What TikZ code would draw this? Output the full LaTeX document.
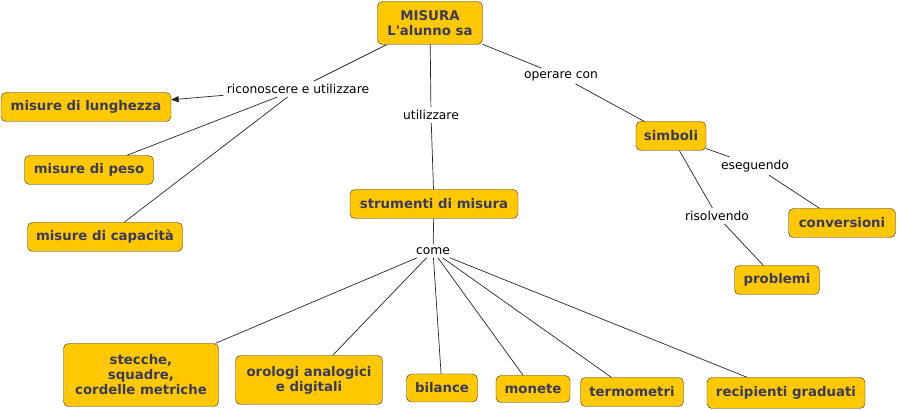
\documentclass[tikz,border=0pt]{standalone}
\usepackage{fontspec}
\setmainfont{DejaVu Sans}
\usetikzlibrary{arrows}
\definecolor{giallo}{HTML}{FFC800}
\definecolor{testo}{HTML}{3A3A5C}
\begin{document}
\begin{tikzpicture}[x=1pt,y=-1pt]
\tikzstyle{nodo concetto}=[draw=black!80,fill=giallo,rounded corners=5pt,text=testo,font=\bfseries\fontsize{13.3}{15}\selectfont,align=center,inner xsep=5pt,minimum height=29pt]
\tikzstyle{nodo frase}=[fill=white,inner sep=3pt,font=\fontsize{12.3}{14}\selectfont]
\tikzstyle{linea}=[draw=black!85,line width=0.7pt]

\useasboundingbox (0,0) rectangle (898,411);

\node[nodo concetto,minimum height=43pt,minimum width=105pt] (misura) at (430,23) {MISURA\\L\textquotesingle alunno sa};

\node[nodo concetto,minimum width=170pt] (lunghezza) at (86,107) {misure di lunghezza};
\node[nodo concetto,minimum width=129pt] (peso) at (89,170) {misure di peso};
\node[nodo concetto,minimum width=155pt] (capacita) at (105,237) {misure di capacità};

\node[nodo concetto,minimum width=70pt] (simboli) at (671,136) {simboli};
\node[nodo concetto,minimum width=107pt] (conversioni) at (842,223) {conversioni};
\node[nodo concetto,minimum width=85pt] (problemi) at (777,280) {problemi};

\node[nodo concetto,minimum width=168pt] (strumenti) at (434,204) {strumenti di misura};

\node[nodo concetto,minimum width=155pt,minimum height=63pt] (stecche) at (141,375) {stecche,\\squadre,\\cordelle metriche};
\node[nodo concetto,minimum width=147pt,minimum height=49pt] (orologi) at (309,380) {orologi analogici\\e digitali};
\node[nodo concetto,minimum width=71pt,minimum height=28pt] (bilance) at (442,388) {bilance};
\node[nodo concetto,minimum width=74pt,minimum height=27pt] (monete) at (533,389) {monete};
\node[nodo concetto,minimum width=103pt] (termometri) at (632,392) {termometri};
\node[nodo concetto,minimum width=158pt,minimum height=31pt] (recipienti) at (786,393) {recipienti graduati};

% frasi di collegamento
\node[nodo frase] (riconoscere) at (298,89) {riconoscere e utilizzare};
\node[nodo frase] (utilizzare) at (431,115) {utilizzare};
\node[nodo frase] (operare) at (561,76) {operare con};
\node[nodo frase] (eseguendo) at (755,166) {eseguendo};
\node[nodo frase] (risolvendo) at (717,216) {risolvendo};
\node[nodo frase] (come) at (433,251) {come};

\draw[linea] (misura) -- (riconoscere);
\draw[linea,-triangle 45] (riconoscere) -- (lunghezza);
\draw[linea] (riconoscere) -- (peso);
\draw[linea] (riconoscere) -- (capacita);
\draw[linea] (misura) -- (utilizzare);
\draw[linea] (utilizzare) -- (strumenti);
\draw[linea] (misura) -- (operare);
\draw[linea] (operare) -- (simboli);
\draw[linea] (simboli) -- (eseguendo);
\draw[linea] (eseguendo) -- (conversioni);
\draw[linea] (simboli) -- (risolvendo);
\draw[linea] (risolvendo) -- (problemi);
\draw[linea] (strumenti) -- (come);
\draw[linea] (come) -- (stecche);
\draw[linea] (come) -- (orologi);
\draw[linea] (come) -- (bilance);
\draw[linea] (come) -- (monete);
\draw[linea] (come) -- (termometri);
\draw[linea] (come) -- (recipienti);
\end{tikzpicture}
\end{document}
